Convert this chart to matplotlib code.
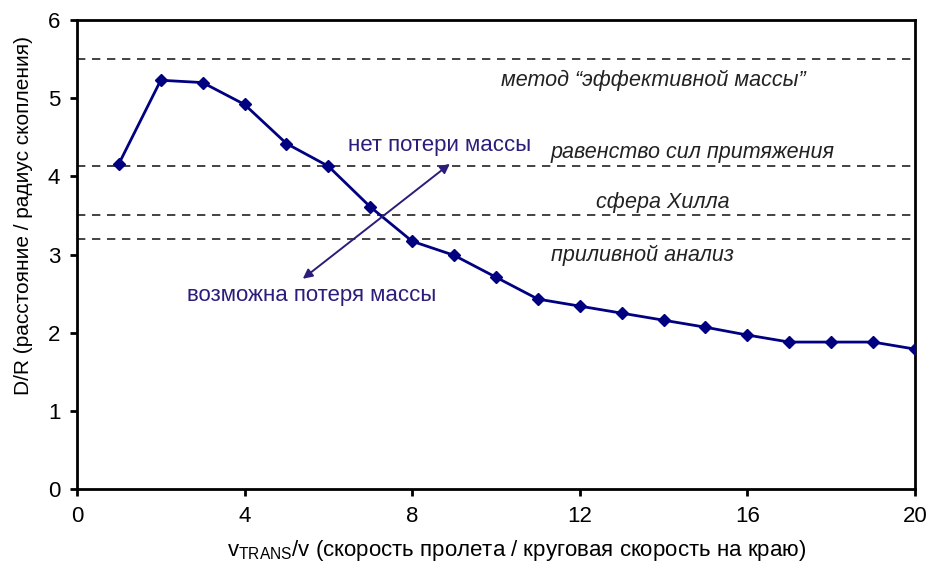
import numpy as np
import matplotlib.pyplot as plt

plt.rcParams['font.family'] = ['Liberation Sans', 'DejaVu Sans']

# data
speed_ratio = [1, 2, 3, 4, 5, 6, 7, 8, 9, 10, 11, 12, 13, 14, 15, 16, 17, 18, 19, 20]
dist_ratio = [4.16, 5.23, 5.20, 4.92, 4.42, 4.13, 3.61, 3.17, 2.99, 2.71,
              2.43, 2.34, 2.25, 2.16, 2.07, 1.97, 1.88, 1.88, 1.88, 1.79]

criteria_levels = [5.5, 4.13, 3.5, 3.2]
criteria_names = ['метод “эффективной массы”', 'равенство сил притяжения',
                  'сфера Хилла', 'приливной анализ']
criteria_label_pos = [(13.75, 5.23), (14.68, 4.31), (13.99, 3.66), (13.49, 2.99)]

fig = plt.figure(figsize=(9.27, 5.65), dpi=100)
ax = fig.add_axes([0.083, 0.1345, 0.904, 0.830])

for lvl in criteria_levels:
    ax.axhline(lvl, color='#222222', ls=(0, (5, 4)), lw=1.2, zorder=1)

ax.plot(speed_ratio, dist_ratio, color='#000080', lw=2, marker='D', ms=6, zorder=3)

for name, (tx, ty) in zip(criteria_names, criteria_label_pos):
    ax.text(tx, ty, name, ha='center', va='center', style='italic', fontsize=15.5, color='#222222')

# arrow pointing both ways across the curve
ann_col = '#2b1d7a'
ax.annotate('', xy=(8.90, 4.16), xytext=(5.39, 2.69),
            arrowprops=dict(arrowstyle='<|-|>', color=ann_col, lw=1.4, mutation_scale=14,
                            shrinkA=0, shrinkB=0))
ax.text(8.66, 4.39, 'нет потери массы', ha='center', va='center', fontsize=16, color=ann_col)
ax.text(5.61, 2.48, 'возможна потеря массы', ha='center', va='center', fontsize=16, color=ann_col)

ax.set_xlim(0, 20)
ax.set_ylim(0, 6)
ax.set_xticks([0, 4, 8, 12, 16, 20])
ax.set_yticks([0, 1, 2, 3, 4, 5, 6])
ax.tick_params(direction='out', length=5, width=2, labelsize=16, pad=7)
for sp in ax.spines.values():
    sp.set_linewidth(2)

ax.set_xlabel('v$_{\\mathregular{TRANS}}$/v (скорость пролета / круговая скорость на краю)',
              fontsize=16)
ax.set_ylabel('D/R (расстояние / радиус скопления)', fontsize=15)
ax.xaxis.set_label_coords(0.525, -0.105)
ax.yaxis.set_label_coords(-0.053, 0.584)

fig.savefig('out.png', dpi=100)
